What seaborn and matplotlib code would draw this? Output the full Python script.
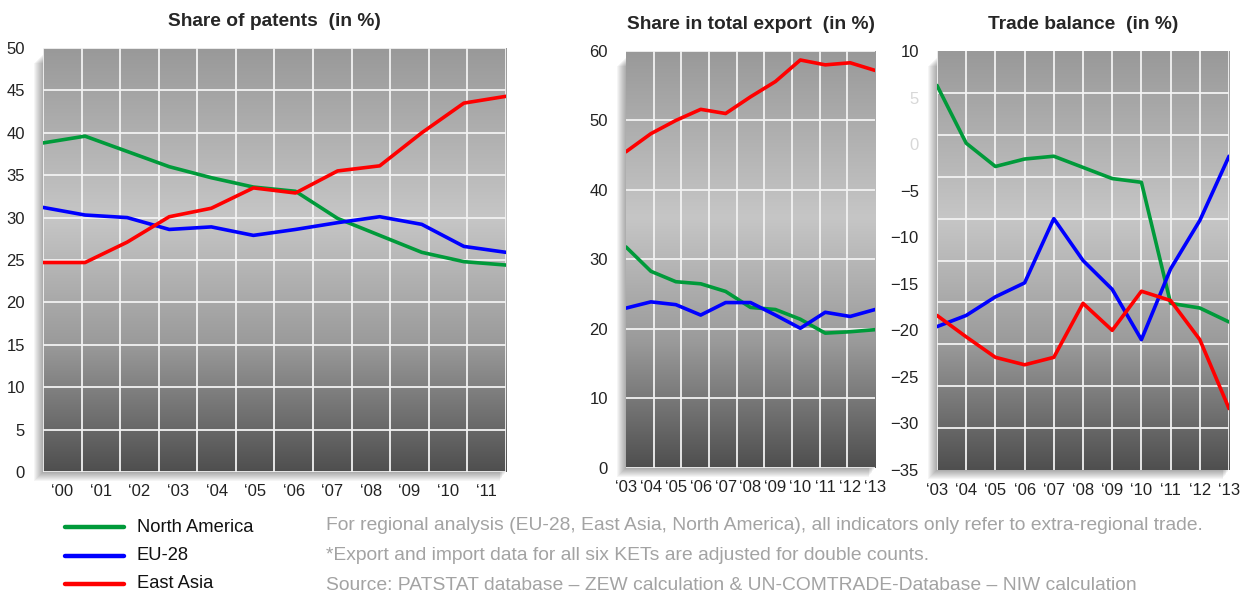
import numpy as np
import pandas as pd
import matplotlib
matplotlib.use("Agg")
import matplotlib.pyplot as plt
from matplotlib.colors import LinearSegmentedColormap
from matplotlib.patches import Rectangle
from matplotlib.lines import Line2D
import seaborn as sns

# ======== Data ========

regions = ["North America", "EU-28", "East Asia"]
region_colors = {"North America": "#009a3a", "EU-28": "#0000ff", "East Asia": "#ff0000"}

# share of patents, 2000-2011
pat_years = ["‘00", "‘01", "‘02", "‘03", "‘04", "‘05", "‘06", "‘07", "‘08", "‘09", "‘10", "‘11"]
pat_na = [38.8, 39.6, 37.8, 36.0, 34.7, 33.6, 33.1, 29.9, 27.9, 25.9, 24.8, 24.4]
pat_eu = [31.2, 30.3, 30.0, 28.6, 28.9, 27.9, 28.6, 29.4, 30.1, 29.2, 26.6, 25.9]
pat_ea = [24.7, 24.7, 27.1, 30.1, 31.1, 33.5, 32.9, 35.5, 36.1, 40.0, 43.5, 44.3]

# share in total export, 2003-2013
exp_years = [2003, 2004, 2005, 2006, 2007, 2008, 2009, 2010, 2011, 2012, 2013]
exp_labels = ["‘03", "‘04", "‘05", "‘06", "‘07", "‘08", "‘09", "‘10", "‘11", "‘12", "‘13"]
exp_na = [31.8, 28.3, 26.8, 26.5, 25.4, 23.1, 22.8, 21.4, 19.4, 19.6, 19.9]
exp_eu = [23.0, 23.9, 23.5, 22.0, 23.8, 23.8, 22.0, 20.1, 22.4, 21.8, 22.8]
exp_ea = [45.5, 48.1, 50.0, 51.6, 51.0, 53.4, 55.6, 58.7, 58.0, 58.3, 57.2]

# trade balance, 2003-2013
tb_na = [6.3, 0.1, -2.4, -1.6, -1.3, -2.5, -3.7, -4.1, -17.1, -17.6, -19.1]
tb_eu = [-19.6, -18.4, -16.4, -14.9, -8.0, -12.5, -15.6, -21.0, -13.4, -8.2, -1.3]
tb_ea = [-18.4, -20.7, -22.9, -23.7, -22.9, -17.1, -20.0, -15.8, -16.8, -21.0, -28.4]

notes = [
    "For regional analysis (EU-28, East Asia, North America), all indicators only refer to extra-regional trade.",
    "*Export and import data for all six KETs are adjusted for double counts.",
    "Source: PATSTAT database \u2013 ZEW calculation & UN-COMTRADE-Database \u2013 NIW calculation",
]

# ======== Style ========

sns.set_style("white")
plt.rcParams["font.family"] = ["Liberation Sans", "DejaVu Sans"]

bg_cmap = LinearSegmentedColormap.from_list(
    "bg", [(0.0, "#4f4f4f"), (0.3, "#9a9a9a"), (0.6, "#c6c6c6"), (1.0, "#999999")])


def long_df(x, na, eu, ea):
    return pd.DataFrame({
        "x": list(x) * 3,
        "value": list(na) + list(eu) + list(ea),
        "region": [r for r in regions for _ in range(len(x))],
    })


def style_panel(ax, xlim, ylim, title):
    grad = np.linspace(0, 1, 256).reshape(-1, 1)
    ax.imshow(grad, cmap=bg_cmap, origin="lower", aspect="auto",
              extent=[xlim[0], xlim[1], ylim[0], ylim[1]], zorder=0)
    ax.set_xlim(*xlim)
    ax.set_ylim(*ylim)
    ax.set_title(title, fontsize=13.8, fontweight="bold", pad=16)
    ax.set_xlabel("")
    ax.set_ylabel("")
    for s in ax.spines.values():
        s.set_visible(False)
    ax.tick_params(which="both", length=0, labelsize=12, colors="#222222")
    ax.tick_params(axis="y", pad=13)
    ax.tick_params(axis="x", pad=9)
    ax.set_axisbelow(False)
    if ax.get_legend() is not None:
        ax.get_legend().remove()


def shadow(fig, ax):
    b = ax.get_position()
    W, H = fig.get_size_inches() * fig.dpi
    for k in range(1, 10):
        dx = k / W
        dy = k / H
        fig.patches.append(Rectangle((b.x0 - dx, b.y0 - dy), b.width + dx * 0.3, b.height - 0.01,
                                     transform=fig.transFigure, facecolor="black",
                                     alpha=0.04, edgecolor="none", zorder=-1))


fig = plt.figure(figsize=(12.49, 5.96), dpi=100)
ax1 = fig.add_axes([0.0344, 0.2081, 0.3707, 0.7114])
ax2 = fig.add_axes([0.5012, 0.2148, 0.1994, 0.6997])
ax3 = fig.add_axes([0.7502, 0.2114, 0.2338, 0.7030])

lw = 2.6

# ---- share of patents ----
pat_x = np.linspace(-0.5, 11.5, len(pat_years))
sns.lineplot(data=long_df(pat_x, pat_na, pat_eu, pat_ea), x="x", y="value", hue="region",
             palette=region_colors, linewidth=lw, ax=ax1, zorder=3)
style_panel(ax1, (-0.5, 11.5), (0, 50), "Share of patents  (in %)")
ax1.set_xticks(range(len(pat_years)))
ax1.set_xticklabels(pat_years)
ax1.set_xticks(np.arange(-0.5, 12, 1), minor=True)
ax1.set_yticks(range(0, 51, 5))
ax1.grid(False)
ax1.grid(True, which="minor", axis="x", color="#f2f2f2", linewidth=1.3)
ax1.grid(True, which="major", axis="y", color="#f2f2f2", linewidth=1.3)

# ---- share in total export ----
sns.lineplot(data=long_df(exp_years, exp_na, exp_eu, exp_ea), x="x", y="value", hue="region",
             palette=region_colors, linewidth=lw, ax=ax2, zorder=3)
style_panel(ax2, (2003, 2013), (0, 60), "Share in total export  (in %)")
ax2.set_xticks(exp_years)
ax2.set_xticklabels(exp_labels)
ax2.set_xticks(np.linspace(2003, 2013, 10), minor=True)
ax2.set_yticks(range(0, 61, 10))
ax2.grid(False)
ax2.grid(True, which="minor", axis="x", color="#f2f2f2", linewidth=1.3)
ax2.grid(True, which="major", axis="y", color="#f2f2f2", linewidth=1.3)

# ---- trade balance ----
sns.lineplot(data=long_df(exp_years, tb_na, tb_eu, tb_ea), x="x", y="value", hue="region",
             palette=region_colors, linewidth=lw, ax=ax3, zorder=3)
style_panel(ax3, (2003, 2013), (-35, 10), "Trade balance  (in %)")
ax3.set_xticks(exp_years)
ax3.set_xticklabels(exp_labels)
ax3.set_yticks(range(-35, 11, 5))
ax3.set_yticks(np.linspace(-35, 10, 11), minor=True)
ax3.grid(False)
ax3.grid(True, which="major", axis="x", color="#f2f2f2", linewidth=1.3)
ax3.grid(True, which="minor", axis="y", color="#f2f2f2", linewidth=1.3)
for lab in ax3.get_yticklabels():
    if lab.get_text() in ("5", "0"):
        lab.set_color("#d8d8d8")

for ax in (ax1, ax2, ax3):
    shadow(fig, ax)

# ---- legend ----
W, H = 1249, 596
for i, r in enumerate(regions):
    y = 1 - (527 + 28.5 * i) / H
    fig.add_artist(Line2D([65 / W, 124 / W], [y, y], color=region_colors[r], linewidth=3.2))
    fig.text(137 / W, y, r, fontsize=13.2, va="center", ha="left", color="#111111")

# ---- notes ----
for i, t in enumerate(notes):
    y = 1 - (526 + 30 * i) / H
    fig.text(326 / W, y, t, fontsize=13.9, va="center", ha="left", color="#a3a3a3")

fig.savefig("out.png", dpi=100)
